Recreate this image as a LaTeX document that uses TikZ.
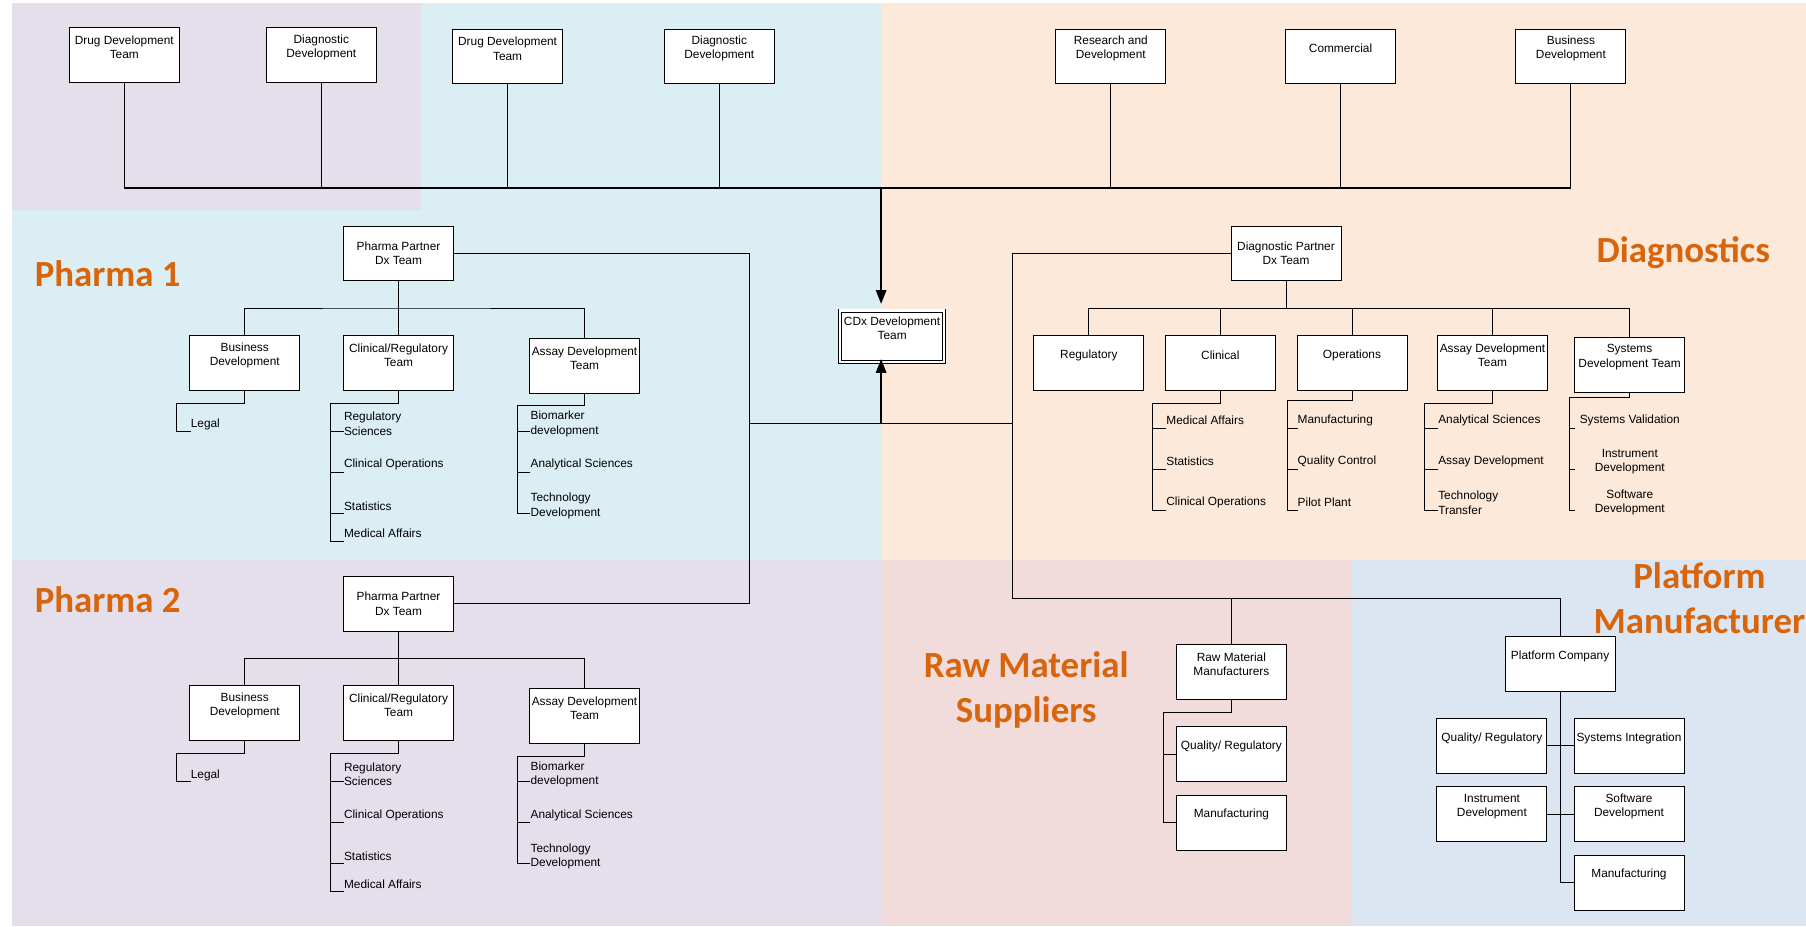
\documentclass[tikz,border=0pt]{standalone}
\usepackage{fontspec}
\setmainfont{Liberation Sans}
\newfontfamily\calfont{Carlito}
\usetikzlibrary{arrows.meta,calc}
\definecolor{cPurple}{HTML}{E5DFEC}
\definecolor{cBlue}{HTML}{DAEEF3}
\definecolor{cPeach}{HTML}{FDE9D9}
\definecolor{cPink}{HTML}{F2DCDB}
\definecolor{cSlate}{HTML}{DCE6F2}
\definecolor{cOrange}{HTML}{D8640B}
\newcommand\boxfont{\fontsize{10.3}{12.4}\selectfont}
\newcommand\regfont{\calfont\bfseries\fontsize{32}{39}\selectfont}
\tikzset{
 ln/.style={draw=black, line width=0.8pt},
 busln/.style={draw=black, line width=1.5pt},
 arr/.style={draw=black, line width=1.5pt, -{Triangle[length=12pt,width=9pt]}},
 obox/.style={draw=black, line width=0.8pt, fill=white, minimum width=95.5pt, minimum height=47.6pt, inner sep=0pt},
 pbox/.style={obox, align=center, font=\boxfont},
 cdxbox/.style={draw=black, line width=0.7pt, double=white, double distance=2pt, fill=white, minimum width=90.6pt, minimum height=44.6pt, inner sep=0pt},
 otext/.style={anchor=center, align=center, inner sep=0pt, font=\boxfont},
 kid/.style={anchor=west, align=left, inner sep=0pt, font=\boxfont},
 kidc/.style={anchor=center, align=center, inner sep=0pt, font=\boxfont},
 region/.style={text=cOrange, font=\regfont, inner sep=0pt},
}
\newcommand\orgbox[4]{\node[obox, label={[otext, yshift=-17.5pt]north:{#4}}] (#1) at (#2,#3) {};}
\newcommand\orgkid[4]{\node[kid] (#1) at (#2,#3) {#4};}
\newcommand\pharmagrp[2]{%
\begin{scope}[yshift=-#2pt]
\node[pbox] (#1pp) at (346,220) {Pharma Partner\\Dx Team};
\orgbox{#1bd}{212.5}{315}{Business\\Development}
\orgbox{#1cr}{346}{315}{Clinical/Regulatory\\Team}
\orgbox{#1ad}{507.5}{317.6}{Assay Development\\Team}
\coordinate (#1br) at (346,267.4);
\draw[ln] (#1pp.south) -- (#1br);
\draw[ln] (#1bd.north) |- (#1br) -| (#1ad.north);
\draw[ln] (#1br) -- (#1cr.north);
\orgkid{#1lg}{165.5}{368.5}{Legal}
\draw[ln] (#1bd.south) |- (153.5,350) |- ([yshift=-6pt]#1lg.west);
\orgkid{#1rs}{298.5}{368}{Regulatory\\Sciences}
\orgkid{#1co}{298.5}{403.5}{Clinical Operations}
\orgkid{#1st}{298.5}{439.2}{Statistics}
\orgkid{#1ma}{298.5}{463.2}{Medical Affairs}
\draw[ln] (#1cr.south) |- (287,350) |- ([yshift=-6.5pt]#1ma.west);
\foreach \k in {rs,co,st}{\draw[ln] ([yshift=-6.5pt]#1\k.west) -- ++(-11.5,0);}
\orgkid{#1bm}{460.5}{368}{Biomarker\\development}
\orgkid{#1as}{460.5}{403.5}{Analytical Sciences}
\orgkid{#1td}{460.5}{439.2}{Technology\\Development}
\draw[ln] (#1ad.south) |- (449,352.3) |- ([yshift=-6.5pt]#1td.west);
\foreach \k in {bm,as}{\draw[ln] ([yshift=-6.5pt]#1\k.west) -- ++(-11.5,0);}
\end{scope}}
\begin{document}
\begin{tikzpicture}[x=1pt,y=-1pt]
\useasboundingbox (0,0) rectangle (1568,804);
% backgrounds
\fill[cPurple] (10,3) rectangle (365.5,182);
\fill[cBlue] (365.5,3) rectangle (765,182);
\fill[cBlue] (10,182) rectangle (765,486);
\fill[cPeach] (765,3) rectangle (1568,486);
\fill[cPurple] (10,486) rectangle (765,804);
\fill[cPink] (765,486) rectangle (1173,804);
\fill[cSlate] (1173,486) rectangle (1568,804);
% region labels
\node[region, anchor=base west] (lp1) at (30,249) {Pharma 1};
\node[region, anchor=base west] (lp2) at (30,531.6) {Pharma 2};
\node[region, anchor=base east] (ldx) at (1537,227.8) {Diagnostics};
\node[region, align=center] (lrm) at (891,599) {Raw Material\\Suppliers};
\node[region, align=center] (lpm) at (1475.5,519) {Platform\\Manufacturer};
% top row
\orgbox{dd1}{107.9}{47.6}{Drug Development\\Team}
\orgbox{dx1}{279}{47.6}{Diagnostic\\Development}
\orgbox{dd2}{440.7}{49}{Drug Development\\Team}
\orgbox{dx2}{624.5}{49}{Diagnostic\\Development}
\orgbox{rd}{964.4}{49}{Research and\\Development}
\orgbox{cm}{1163.9}{49}{Commercial}
\orgbox{bd3}{1363.9}{49}{Business\\Development}
\coordinate (bus) at (765,163);
\foreach \n in {dd1,dx1,dd2,dx2,rd,cm,bd3}{\draw[ln] (\n.south) -- (\n.south |- bus);}
\draw[busln] (dd1.south |- bus) -- (bd3.south |- bus);
% CDx
\node[cdxbox, label={[otext, yshift=-15.5pt]north:{CDx Development\\Team}}] (cdx) at (774.55,292) {};
% pharma groups
\pharmagrp{pa}{0}
\pharmagrp{pb}{304.3}
% diagnostics
\node[pbox] (dp) at (1116.5,220) {Diagnostic Partner\\Dx Team};
\coordinate (dbr) at (1116.5,267.7);
\orgbox{dreg}{945.4}{315}{Regulatory}
\orgbox{dcl}{1059.5}{315}{Clinical}
\orgbox{dop}{1173.8}{315}{Operations}
\orgbox{dad}{1295.8}{315}{Assay Development\\Team}
\orgbox{dsy}{1414.8}{316.8}{Systems\\Development Team}
\draw[ln] (dp.south) -- (dbr);
\draw[ln] (dreg.north) |- (dbr) -| (dsy.north);
\foreach \n in {dcl,dop,dad}{\draw[ln] (\n.north) -- (\n.north |- dbr);}
\orgkid{dma}{1012.5}{365.2}{Medical Affairs}
\orgkid{dst}{1012.5}{400.8}{Statistics}
\orgkid{dco}{1012.5}{436.4}{Clinical Operations}
\draw[ln] (dcl.south) |- (1001,350) |- ([yshift=-7pt]dco.west);
\foreach \k in {dma,dst}{\draw[ln] ([yshift=-7pt]\k.west) -- ++(-11.5,0);}
\orgkid{dmf}{1126.5}{365.2}{Manufacturing}
\orgkid{dqc}{1126.5}{400.8}{Quality Control}
\orgkid{dpp}{1126.5}{436.4}{Pilot Plant}
\draw[ln] (dop.south) |- (1117.4,348) |- ([yshift=-7pt]dpp.west);
\foreach \k in {dmf,dqc}{\draw[ln] ([yshift=-7pt]\k.west) -- ++(-9.1,0);}
\orgkid{das}{1248.5}{365.2}{Analytical Sciences}
\orgkid{dadv}{1248.5}{400.8}{Assay Development}
\orgkid{dtt}{1248.5}{436.4}{Technology\\Transfer}
\draw[ln] (dad.south) |- (1236.8,350) |- ([yshift=-7pt]dtt.west);
\foreach \k in {das,dadv}{\draw[ln] ([yshift=-7pt]\k.west) -- ++(-11.7,0);}
\node[kidc] (dsv) at (1415,365.2) {Systems Validation};
\node[kidc] (did) at (1415,400.8) {Instrument\\Development};
\node[kidc] (dsd) at (1415,436.4) {Software\\Development};
\coordinate (dsvs) at (1367,372.2);
\coordinate (dids) at (1367,407.8);
\coordinate (dsds) at (1367,443.4);
\draw[ln] (dsy.south) |- (1363,345) |- (dsds);
\draw[ln] (dsvs) -- ++(-4,0);
\draw[ln] (dids) -- ++(-4,0);
% raw material
\orgbox{rmm}{1069.1}{583.5}{Raw Material\\Manufacturers}
\orgbox{rmq}{1069.1}{654.6}{Quality/ Regulatory}
\orgbox{rmf}{1069.1}{714.2}{Manufacturing}
\coordinate (rmt) at (1010.2,618.7);
\draw[ln] (rmm.south) |- (rmt) |- (rmf.west);
\draw[ln] (rmt |- rmq.west) -- (rmq.west);
% platform
\orgbox{pc}{1354.5}{576.5}{Platform Company}
\orgbox{pq}{1295.3}{647.5}{Quality/ Regulatory}
\orgbox{psi}{1414.3}{647.5}{Systems Integration}
\orgbox{pid}{1295.3}{707}{Instrument\\Development}
\orgbox{psd}{1414.3}{707}{Software\\Development}
\orgbox{pmf}{1414.3}{766.3}{Manufacturing}
\draw[ln] (pc.south) |- (pmf.west);
\draw[ln] (pq.east) -- (psi.west);
\draw[ln] (pid.east) -- (psd.west);
% main connections
\coordinate (pj) at (650.4,367.5);
\coordinate (cj) at (765,367.5);
\coordinate (dj) at (879,367.5);
\coordinate (sj) at (879,519.5);
\draw[ln] (papp.east) -| (pj);
\draw[ln] (pbpp.east) -| (pj);
\draw[ln] (pj) -- (dj);
\draw[ln] (dp.west) -| (sj);
\draw[ln] (sj) -| (rmm.north);
\draw[ln] (sj) -| (pc.north);
\draw[arr, shorten >=5.5pt] (bus) -- (bus |- cdx.north);
\draw[arr, shorten >=-3pt] (cj) -- (cj |- cdx.south);
\end{tikzpicture}
\end{document}
